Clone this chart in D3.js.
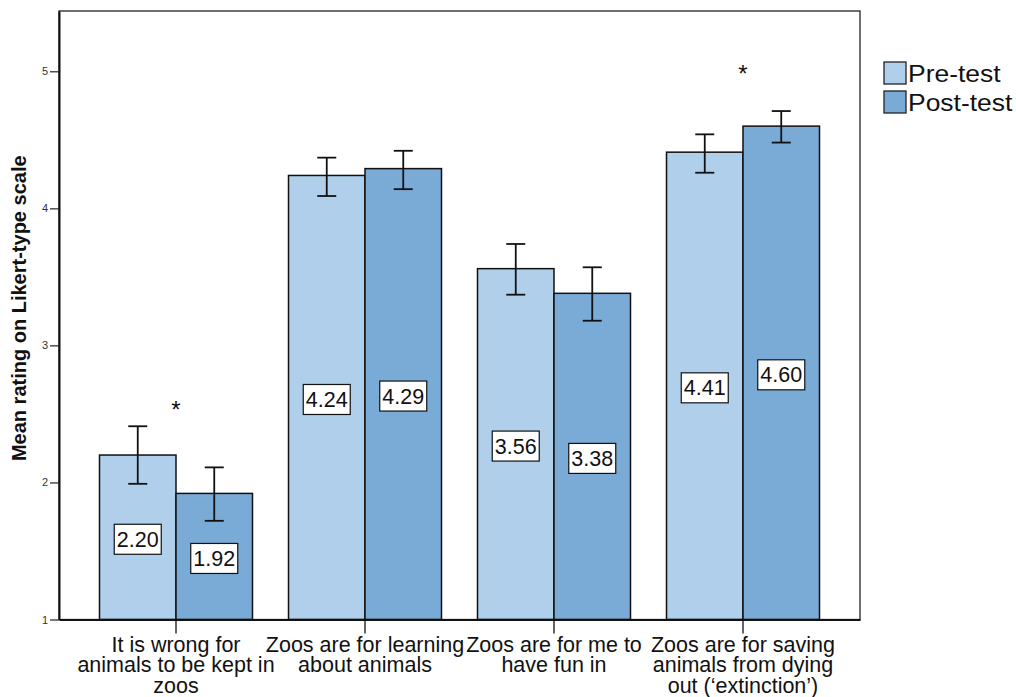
<!DOCTYPE html>
<html>
<head>
<meta charset="utf-8">
<script src="https://cdn.jsdelivr.net/npm/d3@7"></script>
<style>
  html, body { margin: 0; padding: 0; background: #fff; }
  svg { display: block; font-family: "Liberation Sans", Arial, sans-serif; }
</style>
</head>
<body>
<svg id="chart" width="1016" height="697"></svg>
<script>
// Statements rated before and after the zoo visit
const categories = [
  ["It is wrong for", "animals to be kept in", "zoos"],
  ["Zoos are for learning", "about animals"],
  ["Zoos are for me to", "have fun in"],
  ["Zoos are for saving", "animals from dying", "out (\u2018extinction\u2019)"]
];
const seriesNames = ["Pre-test", "Post-test"];

// Mean ratings
const preMeans  = [2.20, 4.24, 3.56, 4.41];
const postMeans = [1.92, 4.29, 3.38, 4.60];

// Error bar bounds
const preLower  = [1.99, 4.09, 3.37, 4.26];
const preUpper  = [2.41, 4.37, 3.74, 4.54];
const postLower = [1.72, 4.14, 3.18, 4.48];
const postUpper = [2.11, 4.42, 3.57, 4.71];

// Significance markers (category index, rating where the asterisk sits)
const starCategory = [0, 3];
const starValue    = [2.57, 5.02];

const yTicks = [1, 2, 3, 4, 5];
const yTitle = "Mean rating on Likert-type scale";

const colors = ["#afcfeb", "#7aaad6"];

const svg = d3.select("#chart");
const plotLeft = 59, plotRight = 860, plotTop = 11, plotBottom = 619.5;

const catKeys = categories.map((c, i) => i);
const x0 = d3.scaleBand().domain(catKeys).range([plotLeft, plotRight])
  .paddingInner(0.1905).paddingOuter(0.2143);
const x1 = d3.scaleBand().domain([0, 1]).range([0, x0.bandwidth()]);
const y = d3.scaleLinear().domain([1, 5.44]).range([plotBottom, plotTop]);

const series = [
  { name: seriesNames[0], means: preMeans, lo: preLower, hi: preUpper, color: colors[0] },
  { name: seriesNames[1], means: postMeans, lo: postLower, hi: postUpper, color: colors[1] }
];

// Bars
const marks = svg.append("g");
series.forEach((s, si) => {
  const g = marks.append("g");
  g.selectAll("rect").data(s.means).join("rect")
    .attr("x", (d, i) => x0(i) + x1(si))
    .attr("y", d => y(d))
    .attr("width", x1.bandwidth())
    .attr("height", d => y(1) - y(d))
    .attr("fill", s.color)
    .attr("stroke", "#111")
    .attr("stroke-width", 1.5);
});

// Error bars
series.forEach((s, si) => {
  const g = marks.append("g").attr("stroke", "#111").attr("stroke-width", 1.8);
  s.means.forEach((m, i) => {
    const cx = x0(i) + x1(si) + x1.bandwidth() / 2;
    const cap = 9.5;
    g.append("line").attr("x1", cx).attr("x2", cx).attr("y1", y(s.lo[i])).attr("y2", y(s.hi[i]));
    g.append("line").attr("x1", cx - cap).attr("x2", cx + cap).attr("y1", y(s.hi[i])).attr("y2", y(s.hi[i]));
    g.append("line").attr("x1", cx - cap).attr("x2", cx + cap).attr("y1", y(s.lo[i])).attr("y2", y(s.lo[i]));
  });
});

// Value labels in boxes at the middle of each bar
series.forEach((s, si) => {
  s.means.forEach((m, i) => {
    const cx = x0(i) + x1(si) + x1.bandwidth() / 2;
    const cy = (y(m) + y(1)) / 2 + 2;
    const g = marks.append("g");
    g.append("rect")
      .attr("x", cx - 23.5).attr("y", cy - 15)
      .attr("width", 47).attr("height", 30)
      .attr("fill", "#fff").attr("stroke", "#111").attr("stroke-width", 1.2);
    g.append("text")
      .attr("x", cx).attr("y", cy + 7.5)
      .attr("text-anchor", "middle")
      .attr("font-size", 21.5)
      .attr("fill", "#111")
      .text(d3.format(".2f")(m));
  });
});

// Significance asterisks
starCategory.forEach((ci, k) => {
  svg.append("text")
    .attr("x", x0(ci) + x0.bandwidth() / 2)
    .attr("y", y(starValue[k]) + 13.5)
    .attr("text-anchor", "middle")
    .attr("font-size", 24)
    .attr("fill", "#111")
    .text("*");
});

// Frame
svg.append("rect")
  .attr("x", plotLeft).attr("y", plotTop)
  .attr("width", plotRight - plotLeft).attr("height", plotBottom - plotTop)
  .attr("fill", "none").attr("stroke", "#222").attr("stroke-width", 1.3);

// Y axis
const yAxis = svg.append("g")
  .attr("transform", `translate(${plotLeft},0)`)
  .call(d3.axisLeft(y).tickValues(yTicks).tickSizeInner(9).tickSizeOuter(0)
    .tickPadding(2).tickFormat(d3.format("d")));
yAxis.select(".domain").attr("stroke", "#111").attr("stroke-width", 2);
yAxis.selectAll(".tick line").attr("stroke", "#222").attr("stroke-width", 1.2);
yAxis.selectAll(".tick text").attr("font-size", 11).attr("fill", "#333")
  .attr("font-family", "Liberation Sans, Arial, sans-serif");

// X axis
const xAxis = svg.append("g")
  .attr("transform", `translate(0,${plotBottom})`)
  .call(d3.axisBottom(x0).tickSizeInner(14).tickSizeOuter(0).tickFormat(""));
xAxis.select(".domain").attr("stroke", "#111").attr("stroke-width", 2);
xAxis.selectAll(".tick line").attr("stroke", "#111").attr("stroke-width", 1.3);

// Category labels
categories.forEach((lines, i) => {
  const cx = x0(i) + x0.bandwidth() / 2;
  const t = svg.append("text")
    .attr("x", cx)
    .attr("y", 651.5)
    .attr("text-anchor", "middle")
    .attr("font-size", 21.5)
    .attr("fill", "#111");
  lines.forEach((ln, j) => {
    t.append("tspan").attr("x", cx).attr("dy", j === 0 ? 0 : 20.5).text(ln);
  });
});

// Y axis title
svg.append("text")
  .attr("transform", `translate(25.5,${(plotTop + plotBottom) / 2 - 7}) rotate(-90)`)
  .attr("text-anchor", "middle")
  .attr("font-size", 20)
  .attr("font-weight", "bold")
  .attr("fill", "#111")
  .text(yTitle);

// Legend
const legend = svg.append("g").attr("transform", "translate(884,62)");
series.forEach((s, si) => {
  const g = legend.append("g").attr("transform", `translate(0,${si * 29})`);
  g.append("rect").attr("width", 22).attr("height", 22)
    .attr("fill", s.color).attr("stroke", "#222").attr("stroke-width", 1.3);
  g.append("text")
    .attr("transform", "translate(24,20) scale(1.15,1)")
    .attr("font-size", 23).attr("fill", "#111").text(s.name);
});
</script>
</body>
</html>
